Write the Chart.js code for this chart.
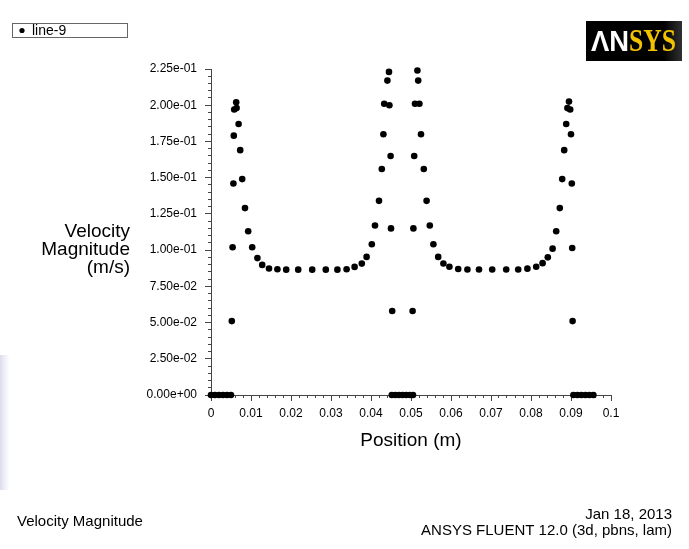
<!DOCTYPE html>
<html>
<head>
<meta charset="utf-8">
<script src="https://cdn.jsdelivr.net/npm/chart.js@4.4.1/dist/chart.umd.min.js"></script>
<style>
  html, body { margin: 0; padding: 0; background: #fff; }
  canvas { display: block; }
</style>
</head>
<body>
<canvas id="velocityChart" width="689" height="549"></canvas>
<script>
// line-9 samples: position (m), velocity magnitude (m/s)
const position = [
  0, 0.001, 0.002, 0.003, 0.004, 0.005,
  0.0052, 0.0054, 0.0056, 0.0057, 0.0058, 0.0063, 0.0064, 0.0069, 0.0073, 0.0078,
  0.0085, 0.0093, 0.0103, 0.0116, 0.0128, 0.0145, 0.0166, 0.0188, 0.0218, 0.0253,
  0.0287, 0.0316, 0.0339, 0.0359, 0.0377, 0.0389, 0.0402, 0.0410, 0.0420, 0.0427,
  0.0431, 0.0433, 0.0441, 0.0445, 0.0446, 0.0449, 0.0450, 0.0453,
  0.0452, 0.0461, 0.0470, 0.0479, 0.0488, 0.0497, 0.0505,
  0.0504, 0.0506, 0.0508, 0.0510, 0.0516, 0.0518, 0.0521, 0.0525, 0.0532, 0.0539,
  0.0547, 0.0556, 0.0568, 0.0581, 0.0596, 0.0618, 0.0641, 0.0670, 0.0703, 0.0738,
  0.0768, 0.0791, 0.0813, 0.0829, 0.0842, 0.0854, 0.0863, 0.0872, 0.0878, 0.0883,
  0.0888, 0.0891, 0.0895, 0.0898, 0.0900, 0.0902, 0.0903, 0.0904,
  0.0906, 0.0916, 0.0926, 0.0936, 0.0946, 0.0956
];
const velocity = [
  0, 0, 0, 0, 0, 0,
  0.051, 0.102, 0.146, 0.179, 0.197, 0.202, 0.198, 0.187, 0.169, 0.149,
  0.129, 0.113, 0.102, 0.0945, 0.0898, 0.0873, 0.0868, 0.0865, 0.0865, 0.0865,
  0.0865, 0.0865, 0.0868, 0.0884, 0.0907, 0.0953, 0.104, 0.117, 0.134, 0.156,
  0.180, 0.201, 0.217, 0.223, 0.200, 0.165, 0.115, 0.058,
  0, 0, 0, 0, 0, 0, 0,
  0.058, 0.115, 0.165, 0.201, 0.224, 0.217, 0.201, 0.180, 0.156, 0.134,
  0.117, 0.104, 0.0953, 0.0908, 0.0885, 0.0870, 0.0866, 0.0866, 0.0866, 0.0866,
  0.0866, 0.0872, 0.0885, 0.0910, 0.0950, 0.101, 0.113, 0.129, 0.149, 0.169,
  0.187, 0.198, 0.2025, 0.197, 0.180, 0.146, 0.1015, 0.051,
  0, 0, 0, 0, 0, 0
];
const seriesName = "line-9";
const xTickLabels = ["0", "0.01", "0.02", "0.03", "0.04", "0.05", "0.06", "0.07", "0.08", "0.09", "0.1"];
const yTickLabels = ["0.00e+00", "2.50e-02", "5.00e-02", "7.50e-02", "1.00e-01",
  "1.25e-01", "1.50e-01", "1.75e-01", "2.00e-01", "2.25e-01"];
const yTitleLines = ["Velocity", "Magnitude", "(m/s)"];

const FONT = "'Liberation Sans', Arial, sans-serif";

// titles, legend box, logo and footer text
const fluentDecor = {
  id: "fluentDecor",
  beforeDraw(chart) {
    const ctx = chart.ctx;
    ctx.save();
    ctx.fillStyle = "#fff";
    ctx.fillRect(0, 0, chart.width, chart.height);
    // faint strip at the left edge of the screenshot
    const g = ctx.createLinearGradient(0, 0, 10, 0);
    g.addColorStop(0, "#dcdcee");
    g.addColorStop(1, "rgba(230,230,245,0)");
    ctx.fillStyle = g;
    ctx.fillRect(0, 355, 10, 135);
    ctx.restore();
  },
  afterDraw(chart) {
    const ctx = chart.ctx;
    ctx.save();

    // legend box
    ctx.strokeStyle = "#666";
    ctx.lineWidth = 1;
    ctx.strokeRect(12.5, 23.5, 115, 14);
    ctx.fillStyle = "#000";
    ctx.beginPath();
    ctx.arc(22, 30.5, 2.6, 0, Math.PI * 2);
    ctx.fill();
    ctx.font = "14px " + FONT;
    ctx.textBaseline = "middle";
    ctx.textAlign = "left";
    ctx.fillText(seriesName, 32, 31);

    // axis titles
    ctx.font = "19px " + FONT;
    ctx.textAlign = "right";
    yTitleLines.forEach((t, i) => ctx.fillText(t, 130, 232 + i * 18));
    ctx.textAlign = "center";
    ctx.fillText("Position (m)", 411, 441);

    // footer
    ctx.font = "15px " + FONT;
    ctx.textAlign = "left";
    ctx.fillText("Velocity Magnitude", 17, 522);
    ctx.textAlign = "right";
    ctx.fillText("Jan 18, 2013", 672, 515);
    ctx.fillText("ANSYS FLUENT 12.0 (3d, pbns, lam)", 672, 531);

    // logo
    const lg = ctx.createLinearGradient(586, 0, 683, 0);
    lg.addColorStop(0, "#000");
    lg.addColorStop(0.8, "#000");
    lg.addColorStop(1, "#333");
    ctx.fillStyle = lg;
    ctx.fillRect(586, 21, 96, 40);
    ctx.textBaseline = "alphabetic";
    ctx.textAlign = "left";
    ctx.font = "bold 30px " + FONT;
    let w = ctx.measureText("\u039BN").width;
    ctx.save();
    ctx.translate(591, 51);
    ctx.scale(38 / w, 1);
    ctx.fillStyle = "#fff";
    ctx.fillText("\u039BN", 0, 0);
    ctx.restore();
    ctx.font = "bold 31px 'Liberation Serif', serif";
    w = ctx.measureText("SYS").width;
    ctx.save();
    ctx.translate(629, 51);
    ctx.scale(47 / w, 1);
    ctx.fillStyle = "#f2c200";
    ctx.fillText("SYS", 0, 0);
    ctx.restore();

    ctx.restore();
  }
};

const points = position.map((p, i) => ({ x: p, y: velocity[i] }));

new Chart(document.getElementById("velocityChart").getContext("2d"), {
  type: "scatter",
  data: {
    datasets: [
      {
        label: seriesName,
        data: points,
        backgroundColor: "#000",
        borderColor: "#000",
        pointRadius: 3.3,
        pointBorderWidth: 0,
        pointHoverRadius: 3.3,
        clip: false,
      },
    ],
  },
  options: {
    responsive: false,
    animation: false,
    events: [],
    layout: { padding: { left: 0, top: 69, right: 78, bottom: 0 } },
    plugins: {
      legend: { display: false },
      tooltip: { enabled: false },
    },
    scales: {
      x: {
        type: "linear",
        position: "bottom",
        weight: 1,
        min: 0,
        max: 0.1,
        ticks: {
          stepSize: 0.01,
          autoSkip: false,
          maxRotation: 0,
          padding: 5,
          color: "#000",
          font: { family: FONT, size: 12 },
          callback: (v, i) => xTickLabels[i],
        },
        grid: { drawOnChartArea: false, tickLength: 6, color: "#444" },
        border: { color: "#444", width: 1 },
        afterFit: (s) => { s.height = 154; },
      },
      xMinor: {
        type: "linear",
        position: "bottom",
        weight: 0,
        min: 0,
        max: 0.1,
        ticks: { stepSize: 0.002, display: false, autoSkip: false },
        grid: { drawOnChartArea: false, tickLength: 3, color: "#444" },
        border: { display: false },
        afterFit: (s) => { s.height = 0; },
      },
      y: {
        type: "linear",
        position: "left",
        weight: 1,
        min: 0,
        max: 0.225,
        ticks: {
          stepSize: 0.025,
          autoSkip: false,
          padding: 8,
          color: "#000",
          font: { family: FONT, size: 12 },
          callback: (v, i) => yTickLabels[i],
        },
        grid: { drawOnChartArea: false, tickLength: 6, color: "#444" },
        border: { color: "#444", width: 1 },
        afterFit: (s) => { s.width = 211; },
      },
      yMinor: {
        type: "linear",
        position: "left",
        weight: 0,
        min: 0,
        max: 0.225,
        ticks: { stepSize: 0.005, display: false, autoSkip: false },
        grid: { drawOnChartArea: false, tickLength: 3, color: "#444" },
        border: { display: false },
        afterFit: (s) => { s.width = 0; },
      },
    },
  },
  plugins: [fluentDecor],
});
</script>
</body>
</html>
